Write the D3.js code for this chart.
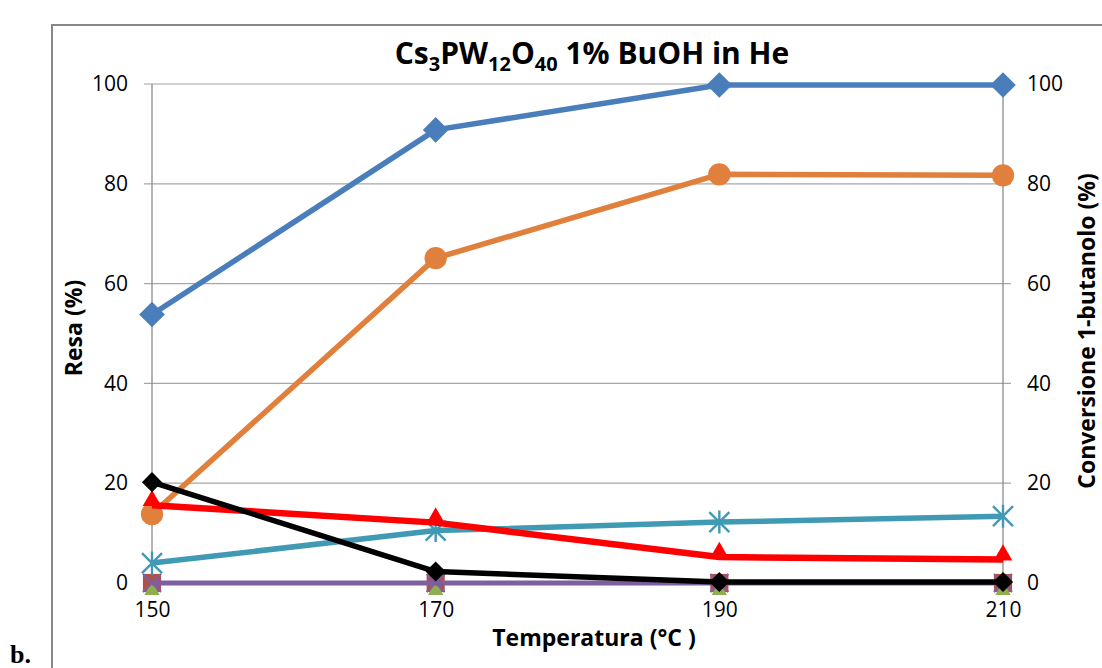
<!DOCTYPE html>
<html>
<head>
<meta charset="utf-8">
<script src="https://cdn.jsdelivr.net/npm/d3@7"></script>
<style>
  html, body { margin: 0; padding: 0; background: #fff; }
  svg { display: block; }
  text { font-family: "Open Sans", Lato, "Liberation Sans", sans-serif; fill: #000; }
</style>
</head>
<body>
<svg id="chart" width="1102" height="668"></svg>
<script>
// Temperatures (°C) on the x axis
const temperatures = [150, 170, 190, 210];
const xTicks = [150, 170, 190, 210];
const yTicks = [0, 20, 40, 60, 80, 100];

// Conversion of 1-butanol (%) – right axis
const conversion = [53.8, 90.8, 99.8, 99.8];
// Yields (%) – left axis
const yieldOrange = [13.8, 65.1, 81.9, 81.7];
const yieldTeal = [4.0, 10.5, 12.2, 13.4];
const yieldRed = [15.6, 12.1, 5.2, 4.7];
const yieldBlack = [20.2, 2.3, 0.2, 0.2];
const yieldSquare = [0, 0, 0, 0];
const yieldTriangle = [0, 0, 0, 0];
const yieldPurple = [0, 0, 0, 0];

const svg = d3.select("#chart");

// outer chart frame
svg.append("rect")
  .attr("x", 52).attr("y", 25)
  .attr("width", 1100).attr("height", 700)
  .attr("fill", "none").attr("stroke", "#888").attr("stroke-width", 2);

const x = d3.scaleLinear().domain([150, 210]).range([152, 1003]);
const yL = d3.scaleLinear().domain([0, 100]).range([583, 84]);
const yR = d3.scaleLinear().domain([0, 100]).range([583, 84]);

// horizontal gridlines (with outside tick stubs on both sides)
svg.append("g").selectAll("line").data(yTicks.filter(d => d > 0)).join("line")
  .attr("x1", 144).attr("x2", 1011)
  .attr("y1", d => yL(d)).attr("y2", d => yL(d))
  .attr("stroke", "#a6a6a6").attr("stroke-width", 1.2);

// left, right and bottom axis lines
svg.append("line").attr("x1", x(150)).attr("x2", x(150)).attr("y1", yL(100)).attr("y2", yL(0) + 8)
  .attr("stroke", "#8c8c8c").attr("stroke-width", 1.3);
svg.append("line").attr("x1", x(210)).attr("x2", x(210)).attr("y1", yL(100)).attr("y2", yL(0) + 8)
  .attr("stroke", "#8c8c8c").attr("stroke-width", 1.3);
svg.append("line").attr("x1", 144).attr("x2", 1011).attr("y1", yL(0)).attr("y2", yL(0))
  .attr("stroke", "#8c8c8c").attr("stroke-width", 1.3);

// tick labels via d3 axes, lines hidden
const fontTick = "21px";
const gL = svg.append("g").attr("transform", `translate(${x(150) - 24},0)`)
  .call(d3.axisLeft(yL).tickValues(yTicks).tickSize(0).tickPadding(0));
const gR = svg.append("g").attr("transform", `translate(${x(210) + 24},0)`)
  .call(d3.axisRight(yR).tickValues(yTicks).tickSize(0).tickPadding(0));
const gB = svg.append("g").attr("transform", `translate(0,${yL(0) + 14})`)
  .call(d3.axisBottom(x).tickValues(xTicks).tickSize(0).tickPadding(0));
[gL, gR, gB].forEach(g => {
  g.select(".domain").remove();
  g.selectAll("text").style("font-size", fontTick).attr("fill", "#000")
    .style("font-family", "'Open Sans', Lato, sans-serif");
});
gB.selectAll("text").attr("dy", "0.95em");

// series drawing helpers
const line = (yScale) => d3.line().x((d, i) => x(temperatures[i])).y(d => yScale(d));

function drawLine(values, yScale, color, width) {
  svg.append("path").datum(values)
    .attr("d", line(yScale))
    .attr("fill", "none").attr("stroke", color)
    .attr("stroke-width", width).attr("stroke-linejoin", "round");
}

function drawMarkers(values, yScale, type, size, fill, stroke, sw) {
  const g = svg.append("g");
  values.forEach((v, i) => {
    const cx = x(temperatures[i]), cy = yScale(v);
    if (type === "x" || type === "star") {
      const h = size / 2;
      let d = `M${cx - h},${cy - h}L${cx + h},${cy + h}M${cx - h},${cy + h}L${cx + h},${cy - h}`;
      if (type === "star") d += `M${cx},${cy - h * 1.15}L${cx},${cy + h * 1.15}`;
      g.append("path").attr("d", d).attr("stroke", stroke).attr("stroke-width", sw).attr("fill", "none");
    } else {
      const sym = { diamond: d3.symbolDiamond2, circle: d3.symbolCircle, triangle: d3.symbolTriangle2, square: d3.symbolSquare2 }[type];
      g.append("path")
        .attr("d", d3.symbol().type(sym).size(size)())
        .attr("transform", `translate(${cx},${cy})`)
        .attr("fill", fill);
    }
  });
}

// square series (brown) and triangle series (green) at zero
drawLine(yieldSquare, yL, "#be4b48", 4);
drawMarkers(yieldSquare, yL, "square", 420, "#b0504a");
drawLine(yieldTriangle, yL, "#98b954", 4);
drawMarkers(yieldTriangle.map(v => v - 1.5), yL, "triangle", 170, "#8fae50");
// purple series
drawLine(yieldPurple, yL, "#7d5fa0", 5);
drawMarkers(yieldPurple, yL, "x", 18, null, "#7d5fa0", 2);

// conversion (blue diamonds)
drawLine(conversion, yR, "#4a7ebb", 5.5);
drawMarkers(conversion, yR, "diamond", 420, "#4a7ebb");

// teal asterisks
drawLine(yieldTeal, yL, "#419ab3", 5.5);
drawMarkers(yieldTeal, yL, "star", 20, null, "#419ab3", 2.4);

// orange circles
drawLine(yieldOrange, yL, "#e0803c", 5.5);
drawMarkers(yieldOrange, yL, "circle", 390, "#e0803c");

// red triangles
drawLine(yieldRed, yL, "#ff0000", 6.5);
drawMarkers(yieldRed.map(v => v + 0.9), yL, "triangle", 250, "#ff0000");

// black diamonds
drawLine(yieldBlack, yL, "#000", 5.5);
drawMarkers(yieldBlack, yL, "diamond", 260, "#000");

// title with subscripts
const title = svg.append("text")
  .attr("x", 592).attr("y", 64)
  .attr("text-anchor", "middle")
  .style("font-size", "30px").style("font-weight", "bold");
title.append("tspan").text("Cs");
title.append("tspan").text("3").attr("dy", 7).style("font-size", "20px");
title.append("tspan").text("PW").attr("dy", -7);
title.append("tspan").text("12").attr("dy", 7).style("font-size", "20px");
title.append("tspan").text("O").attr("dy", -7);
title.append("tspan").text("40").attr("dy", 7).style("font-size", "20px");
title.append("tspan").text(" 1% BuOH in He").attr("dy", -7);

// axis titles
svg.append("text")
  .attr("x", 594).attr("y", 646)
  .attr("text-anchor", "middle")
  .style("font-size", "23px").style("font-weight", "bold")
  .text("Temperatura (°C )");

svg.append("text")
  .attr("transform", "translate(82,328) rotate(-90)")
  .attr("text-anchor", "middle")
  .style("font-size", "23px").style("font-weight", "bold")
  .text("Resa (%)");

svg.append("text")
  .attr("transform", "translate(1095,331) rotate(-90)")
  .attr("text-anchor", "middle")
  .style("font-size", "23px").style("font-weight", "bold")
  .text("Conversione 1-butanolo (%)");

// panel label
svg.append("text")
  .attr("x", 10).attr("y", 663)
  .style("font-family", "'Liberation Serif', 'DejaVu Serif', serif")
  .style("font-size", "26px").style("font-weight", "bold")
  .text("b.");
</script>
</body>
</html>
